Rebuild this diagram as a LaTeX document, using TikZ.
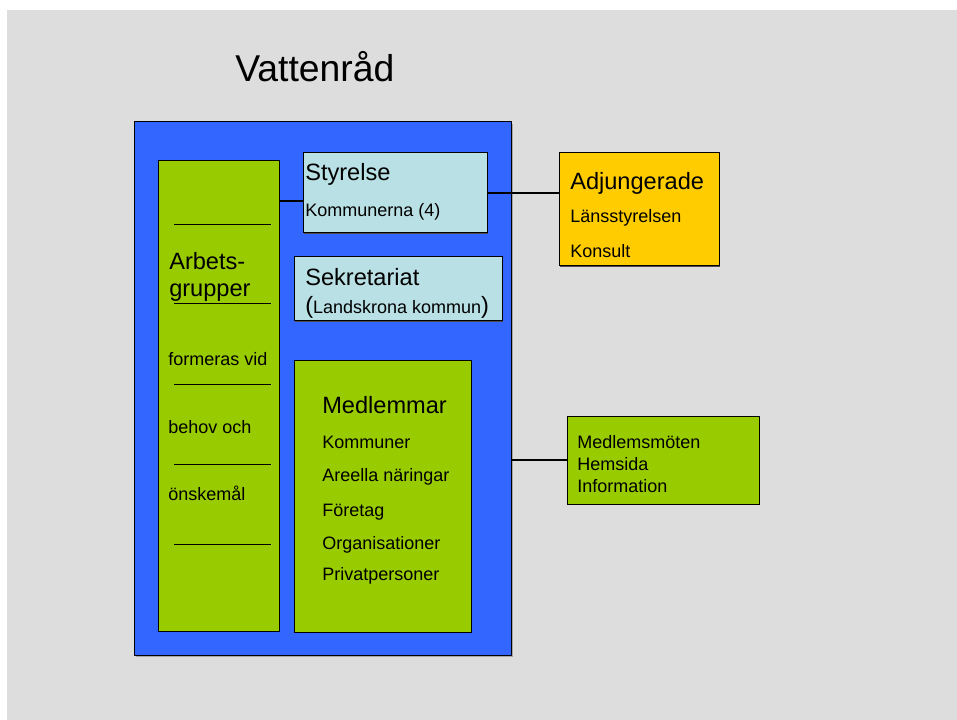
\documentclass[tikz,border=0pt]{standalone}
\usepackage{fontspec}
\setmainfont{Liberation Sans}
\usepackage{tikz}
\usetikzlibrary{positioning,shadows}
\definecolor{slidegray}{HTML}{DDDDDD}
\definecolor{rådblue}{HTML}{3366FF}
\definecolor{leafgreen}{HTML}{99CC00}
\definecolor{paleaqua}{HTML}{B9E0E4}
\definecolor{goldyellow}{HTML}{FFCC00}
\tikzset{
    box/.style={draw=black, line width=0.75pt, inner sep=0pt, outer sep=0pt,
        drop shadow={shadow xshift=0.9pt, shadow yshift=-1pt, fill=black!70, opacity=1}},
    head/.style={anchor=base west, inner sep=0pt, font=\fontsize{17.7}{21}\selectfont},
    small/.style={anchor=base west, inner sep=0pt, font=\fontsize{13.5}{16}\selectfont},
    link/.style={line width=1.4pt},
    rule/.style={line width=0.75pt}
}
\begin{document}
\begin{tikzpicture}[x=0.75pt, y=-0.75pt]
    \useasboundingbox[fill=white] (0,0) rectangle (957,720);
    \fill[slidegray] (7,10) rectangle (957,720);

    \node[anchor=base west, inner sep=0pt, font=\fontsize{28}{33}\selectfont] (title) at (235,82) {Vattenråd};

    % the big blue frame
    \node[box, fill=rådblue, minimum width=282.75pt, minimum height=399.75pt,
        drop shadow={shadow xshift=1.2pt, shadow yshift=-1.4pt, fill=black!35, opacity=1}] (vatten) at (322.5,388.5) {};

    \node[box, fill=leafgreen, minimum width=90.75pt, minimum height=352.5pt] (arb) at (218.5,396) {};
    \node[box, fill=paleaqua, minimum width=138pt, minimum height=60pt] (styr) at (395,193) {};
    \node[box, fill=paleaqua, minimum width=156pt, minimum height=48pt] (sekr) at (398,289) {};
    \node[box, fill=leafgreen, minimum width=132.75pt, minimum height=203.25pt] (medl) at (382.5,496.5) {};
    \node[box, fill=goldyellow, minimum width=120pt, minimum height=84.75pt] (adj) at (639,209.5) {};
    \node[box, fill=leafgreen, minimum width=144pt, minimum height=66pt] (info) at (663,460) {};

    % Arbetsgrupper
    \draw[rule] (174,225) -- (271,225);
    \draw[rule] (174,304) -- (271,304);
    \draw[rule] (174,384) -- (271,384);
    \draw[rule] (174,464) -- (271,464);
    \draw[rule] (174,544) -- (271,544);
    \node[head] (arb1) at (169,270) {Arbets-};
    \node[head] (arb2) at (169,297) {grupper};
    \node[small] (arb3) at (168,366) {formeras vid};
    \node[small] (arb4) at (168,433) {behov och};
    \node[small] (arb5) at (168,500) {önskemål};

    % Styrelse och sekretariat
    \node[head] (styr1) at (305,181) {Styrelse};
    \node[small] (styr2) at (305,217) {Kommunerna (4)};
    \node[head] (sekr1) at (305,286) {Sekretariat};
    \node[small] (sekr2) at (305,314) {{\fontsize{17.7}{21}\selectfont(}Landskrona kommun{\fontsize{17.7}{21}\selectfont)}};

    % Adjungerade
    \node[head] (adj1) at (570,190) {Adjungerade};
    \node[small] (adj2) at (570,223) {Länsstyrelsen};
    \node[small] (adj3) at (570,258) {Konsult};

    % Medlemmar
    \node[head] (medl1) at (322,413) {Medlemmar};
    \node[small] (medl2) at (322,448) {Kommuner};
    \node[small] (medl3) at (322,481) {Areella näringar};
    \node[small] (medl4) at (322,516) {Företag};
    \node[small] (medl5) at (322,549) {Organisationer};
    \node[small] (medl6) at (322,580) {Privatpersoner};

    \node[small] (info1) at (577,448) {Medlemsmöten};
    \node[small] (info2) at (577,470) {Hemsida};
    \node[small] (info3) at (577,492) {Information};

    % connections
    \draw[link] ([yshift=-6pt]styr.west) -- ([yshift=-6pt]styr.west -| arb.east);
    \draw[link] (styr.east) -- (styr.east -| adj.west);
    \draw[link] (info.west) -- (info.west -| vatten.east);
\end{tikzpicture}
\end{document}
